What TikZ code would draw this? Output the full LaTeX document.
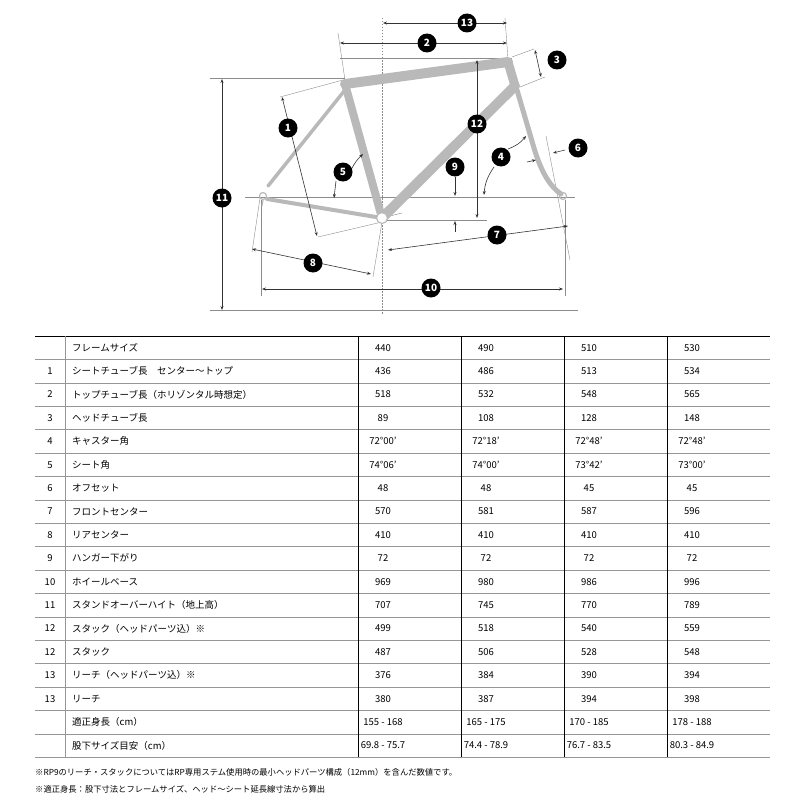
\documentclass[tikz,border=0pt]{standalone}
\usepackage{fontspec}
\setmainfont{Noto Sans CJK JP}
\usetikzlibrary{arrows.meta}
\definecolor{frame}{RGB}{185,185,185}
\definecolor{tline}{RGB}{150,150,150}
\tikzset{
 tube/.style={draw=frame,line cap=round,line join=round},
 dim/.style={draw=black!80,line width=0.6pt,{Stealth[length=4pt,width=3pt]}-{Stealth[length=4pt,width=3pt]}},
 dimone/.style={draw=black!80,line width=0.6pt,-{Stealth[length=4pt,width=3pt]}},
 ext/.style={draw=black!45,line width=0.4pt},
 num/.style={circle,fill=black,text=white,inner sep=0pt,minimum size=19pt,font=\fontsize{10}{10}\selectfont\bfseries},
 cell/.style={font=\fontsize{9.5}{11}\selectfont,inner sep=0pt},
}
\begin{document}
\begin{tikzpicture}[x=1pt,y=-1pt]
\useasboundingbox (0,0) rectangle (800,800);
% ---------- diagram ----------
\coordinate (st) at (345,84);
\coordinate (ht) at (508,62);
\coordinate (hb) at (515,86);
\coordinate (bb) at (382,218);
\coordinate (rd) at (263,196);
\coordinate (fd) at (563,196);
% lines
\draw[ext] (210,310) -- (578,310);
\draw[ext] (245,197) -- (575,197);
\draw[ext,dashed,dash pattern=on 1.5pt off 1.5pt] (382,18) -- (382,315);
\draw[ext] (210,78) -- (345,78);
\draw[ext] (340,58) -- (512,58);
\draw[ext] (382,220) -- (487,220);
\draw[ext] (338,33) -- (345,80);
\draw[ext] (505,18) -- (508,60);
\draw[ext] (512,57) -- (534,49);
\draw[ext] (520,87) -- (545,77);
\draw[ext] (280,97) -- (343,80);
\draw[ext] (318,237) -- (382,222);
\draw[ext] (546,136) -- (570,260);
\draw[ext] (260,198) -- (252,252);
\draw[ext] (382,222) -- (373,277);
\draw[ext] (261,200) -- (261,296);
\draw[ext] (565,200) -- (565,296);
\draw[ext] (382,218) -- (402,213);
% frame
\draw[tube,line width=3.5pt] (345,90) -- (268,186);
\draw[tube,line width=4pt] (267,199) -- (bb);
\draw[tube,line width=8pt] (st) -- (bb);
\draw[tube,line width=10pt] (bb) -- (hb);
\draw[tube,line width=10pt] (st) -- (ht);
\draw[tube,line width=9pt] (ht) -- (hb);
\draw[tube,line width=5pt] (517,90) -- (534,148) .. controls (540,168) and (548,185) .. (561,194);
\draw[frame,line width=1.2pt] (rd) circle (3.5pt);
\draw[frame,line width=1.2pt] (fd) circle (3.5pt);
\draw[frame,line width=1.2pt,fill=white] (bb) circle (5.5pt);
\draw[frame,line width=1.2pt] (263,200) -- (262,206);
% dims
\draw[dim] (383,23) -- (507,23);
\node[num] at (467,23) {13};
\draw[dim] (340,43) -- (507,43);
\node[num] at (427,43) {2};
\draw[dim] (535,50) -- (541,77);
\node[num] at (557,60) {3};
\draw[dim] (222,79) -- (222,310);
\node[num] at (222,198) {11};
\draw[dim] (477,60) -- (477,218);
\node[num] at (477,124) {12};
\draw[dim] (282,97) -- (317,236);
\node[num] at (288,128) {1};
\draw[dimone] (351,170) to[bend left=10] (363,154);
\draw[dimone] (336,181) -- (334,198);
\node[num] at (343,172) {5};
\draw[dimone] (455,177) -- (455,196);
\draw[dimone] (455,232) -- (455,221);
\node[num] at (455,167) {9};
\draw[dimone] (508,149) to[bend right=15] (526,136);
\draw[dimone] (494,167) to[bend right=15] (484,195);
\node[num] at (501,157) {4};
\draw[dimone] (565,150) -- (553,153);
\draw[dimone] (527,162) -- (536,160);
\node[num] at (578,148) {6};
\draw[dim] (388,250) -- (568,226);
\node[num] at (497,235) {7};
\draw[dim] (252,249) -- (371,274);
\node[num] at (313,263) {8};
\draw[dim] (262,289) -- (563,289);
\node[num] at (431,288) {10};
% ---------- table ----------
\draw[black,line width=0.7pt] (35,336) -- (770,336);
\foreach \i in {1,...,18} {\draw[tline,line width=0.4pt] (35,{336+\i*23.4}) -- (770,{336+\i*23.4});}
\draw[tline,line width=0.4pt] (65,336) -- (65,757.2);
\foreach \x in {358,461,564,667} {\draw[black,line width=0.7pt] (\x,336) -- (\x,757.2);}
\foreach \r/\n/\l/\a/\b/\c/\d in {
 0//フレームサイズ/440/490/510/530,
 1/1/シートチューブ長\quad センター〜トップ/436/486/513/534,
 2/2/トップチューブ長（ホリゾンタル時想定）/518/532/548/565,
 3/3/ヘッドチューブ長/89/108/128/148,
 4/4/キャスター角/72°00'/72°18'/72°48'/72°48',
 5/5/シート角/74°06'/74°00'/73°42'/73°00',
 6/6/オフセット/48/48/45/45,
 7/7/フロントセンター/570/581/587/596,
 8/8/リアセンター/410/410/410/410,
 9/9/ハンガー下がり/72/72/72/72,
 10/10/ホイールベース/969/980/986/996,
 11/11/スタンドオーバーハイト（地上高）/707/745/770/789,
 12/12/スタック（ヘッドパーツ込）※/499/518/540/559,
 13/12/スタック/487/506/528/548,
 14/13/リーチ（ヘッドパーツ込）※/376/384/390/394,
 15/13/リーチ/380/387/394/398,
 16//適正身長（cm）/155 - 168/165 - 175/170 - 185/178 - 188,
 17//股下サイズ目安（cm）/69.8 - 75.7/74.4 - 78.9/76.7 - 83.5/80.3 - 84.9}
{
 \pgfmathsetmacro{\yy}{336+(\r+0.5)*23.4}
 \node[cell] at (50,\yy) {\n};
 \node[cell,anchor=west] at (72,\yy) {\l};
 \node[cell] at (383,\yy) {\a};
 \node[cell] at (486,\yy) {\b};
 \node[cell] at (589,\yy) {\c};
 \node[cell] at (692,\yy) {\d};
}
\node[cell,anchor=west,font=\fontsize{8.3}{10}\selectfont] at (35,772) {※RP9のリーチ・スタックについてはRP専用ステム使用時の最小ヘッドパーツ構成（12mm）を含んだ数値です。};
\node[cell,anchor=west,font=\fontsize{8.3}{10}\selectfont] at (35,789) {※適正身長：股下寸法とフレームサイズ、ヘッド〜シート延長線寸法から算出};
\end{tikzpicture}
\end{document}
